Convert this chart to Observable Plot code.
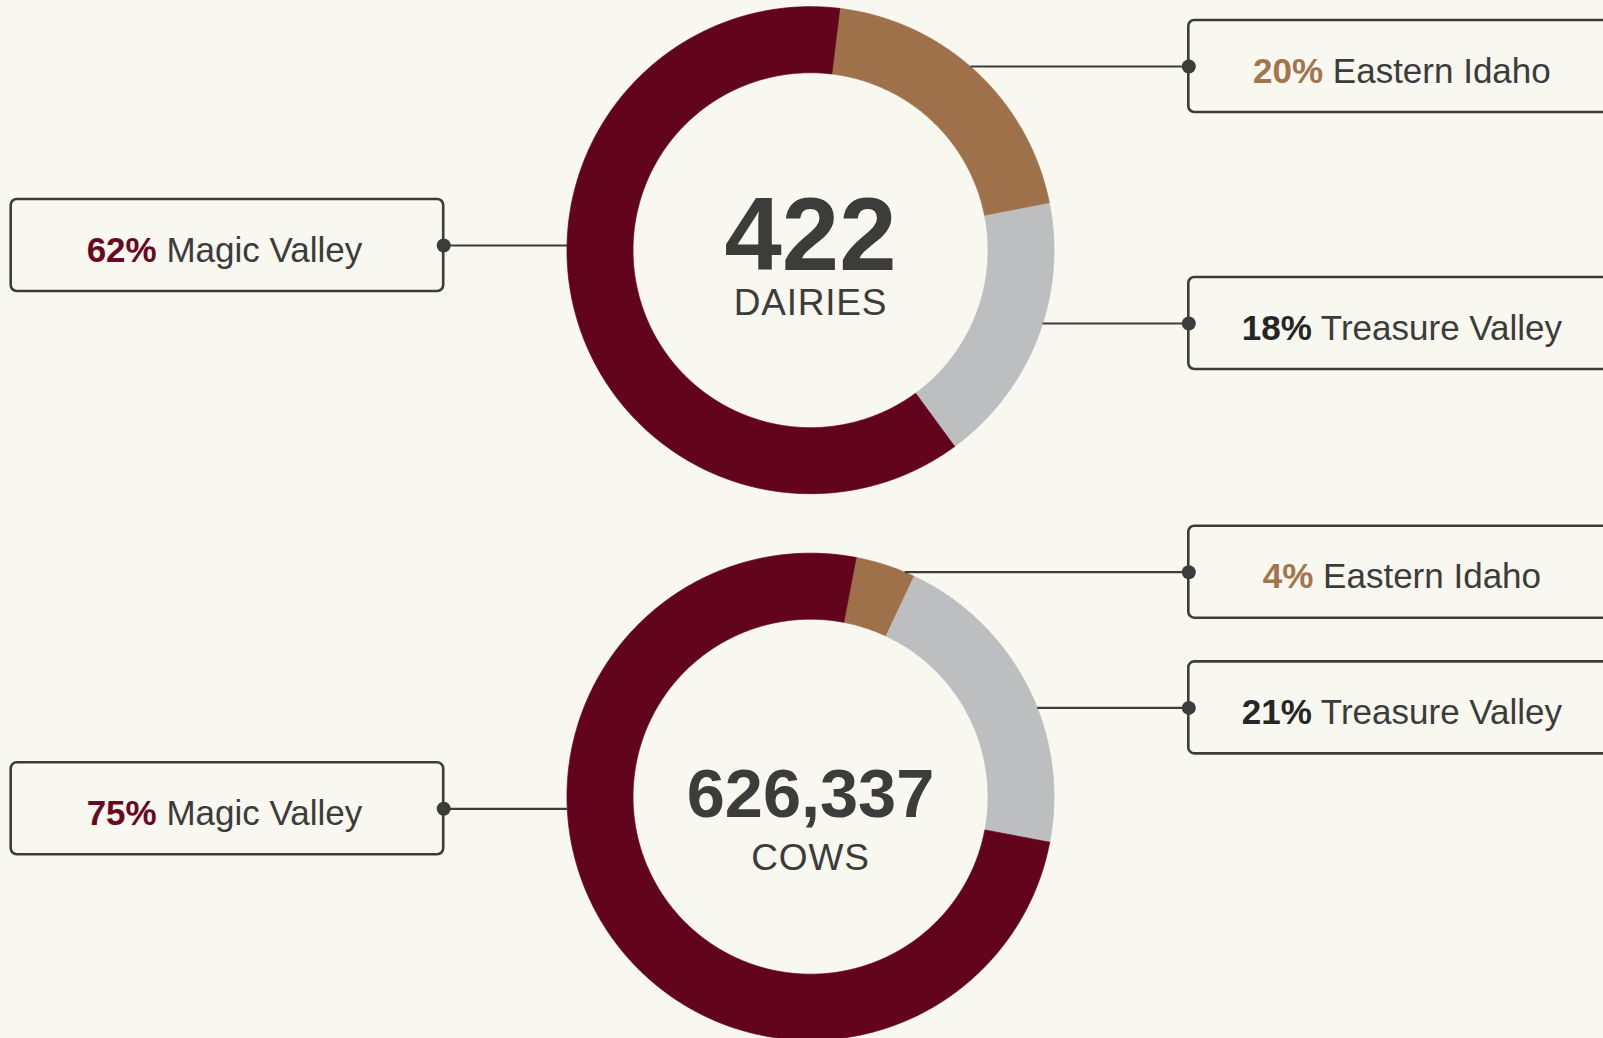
<!DOCTYPE html>
<html>
<head>
<meta charset="utf-8">
<script src="https://cdn.jsdelivr.net/npm/d3@7"></script>
<script src="https://cdn.jsdelivr.net/npm/@observablehq/plot@0.6"></script>
<style>
  html, body { margin: 0; padding: 0; background: #f8f7f0; overflow: hidden; }
  #chart svg { display: block; }
</style>
</head>
<body>
<div id="chart"></div>
<script>
// ---------------- DATA ----------------
const regions = ["Eastern Idaho", "Treasure Valley", "Magic Valley"];
const dairiesShare = [20, 18, 62];   // % of dairies
const cowsShare = [4, 21, 75];       // % of cows
const totals = [422, 626337];
const totalLabels = ["DAIRIES", "COWS"];

// ---------------- STYLE / LAYOUT ----------------
const regionColors = ["#9e714b", "#bdbec0", "#63041d"];
const percentColors = {"Eastern Idaho": "#a2754d", "Treasure Valley": "#262625", "Magic Valley": "#6a0820"};
const ink = "#3c3c3a";
const bg = "#f8f7f0";
const W = 1603, H = 1038;
const donutLayout = [{cx: 810, cy: 249.7, start: 6.9}, {cx: 810, cy: 796.2, start: 10.8}];
const rOuter = 243.5, rInner = 177.5;
const labelSide = {"Eastern Idaho": "right", "Treasure Valley": "right", "Magic Valley": "left"};
const labelY = [[66, 323, 245], [571.7, 707.4, 808.3]];
const boxLeft = {left: [10.7, 443.2], right: [1188.3, 1620.5]};
const boxH = 92;

// ---------------- BUILD TABLES ----------------
const series = [dairiesShare, cowsShare];
const arcPts = [];
const labels = [];
const centers = [];
series.forEach((vals, d) => {
  const {cx, cy, start} = donutLayout[d];
  let a = start;
  vals.forEach((v, i) => {
    const a0 = a, a1 = a + v * 3.6;
    a = a1;
    const key = d + "-" + i;
    const n = Math.max(2, Math.ceil((a1 - a0) / 0.25));
    const pt = (r, deg) => {
      const t = deg * Math.PI / 180;
      return {x: cx + r * Math.sin(t), y: cy - r * Math.cos(t)};
    };
    for (let k = 0; k <= n; k++) arcPts.push({key, region: regions[i], ...pt(rOuter, a0 + (a1 - a0) * k / n)});
    for (let k = n; k >= 0; k--) arcPts.push({key, region: regions[i], ...pt(rInner, a0 + (a1 - a0) * k / n)});
    arcPts.push({key, region: regions[i], ...pt(rOuter, a0)});

    const side = labelSide[regions[i]];
    const y = labelY[d][i];
    const dy = y - cy;
    const dx = Math.sqrt(rOuter * rOuter - dy * dy);
    const [bx1, bx2] = boxLeft[side];
    labels.push({
      region: regions[i], pct: v, y,
      lx1: side === "right" ? cx + dx : cx - dx,
      lx2: side === "right" ? bx1 : bx2,
      bx1, bx2, by1: y - boxH / 2, by2: y + boxH / 2,
      tx: (bx1 + bx2) / 2 - 3,
      text: v + "% " + regions[i]
    });
  });
  centers.push({x: cx, y: cy, total: d3.format(",")(totals[d]), label: totalLabels[d]});
});

const font = "'Liberation Sans', Arial, sans-serif";
const chart = Plot.plot({
  width: W, height: H, margin: 0,
  x: {domain: [0, W], range: [0, W], axis: null},
  y: {domain: [0, H], range: [0, H], axis: null},
  color: {domain: regions, range: regionColors},
  style: {background: bg, fontFamily: font, overflow: "visible"},
  marks: [
    Plot.line(arcPts, {x: "x", y: "y", z: "key", fill: "region", stroke: "region", strokeWidth: 0.8, curve: "linear"}),
    Plot.link(labels, {x1: "lx1", y1: "y", x2: "lx2", y2: "y", stroke: ink, strokeWidth: 2.2}),
    Plot.rect(labels, {x1: "bx1", x2: "bx2", y1: "by1", y2: "by2", fill: bg, stroke: ink, strokeWidth: 2.6, rx: 6}),
    Plot.dot(labels, {x: "lx2", y: "y", r: 7, fill: ink, stroke: null}),
    Plot.text(labels, {x: "tx", y: "y", text: "text", fontSize: 35, fill: ink, textAnchor: "middle", dy: 5}),
    Plot.text(centers.slice(0, 1), {x: "x", y: "y", text: "total", fontSize: 103, fontWeight: "bold", fill: ink, dy: -13.5}),
    Plot.text(centers.slice(1), {x: "x", y: "y", text: "total", fontSize: 68.5, fontWeight: "bold", fill: ink, dy: -2}),
    Plot.text(centers, {x: "x", y: "y", text: "label", fontSize: 37, fill: ink})
  ]
});

const textGroups = chart.querySelectorAll('g[aria-label="text"]');
// Rich-text: bold coloured percentage + regular region name
d3.select(textGroups[0]).selectAll("text").each(function() {
  const s = this.textContent;
  const sp = s.indexOf(" ");
  const pct = s.slice(0, sp), name = s.slice(sp + 1);
  const t = d3.select(this);
  t.text(null);
  t.append("tspan").attr("font-weight", "bold").attr("fill", percentColors[name]).text(pct);
  t.append("tspan").text(" " + name);
});
// center sub-labels offsets (below the totals)
const subDy = [64.5 - 0.32 * 37, 73 - 0.32 * 37];
d3.select(textGroups[3]).selectAll("text").each(function(_, j) {
  const tr = this.getAttribute("transform") || "";
  this.setAttribute("transform", tr + ` translate(0,${subDy[j]})`);
  this.setAttribute("letter-spacing", "0.8");
});

document.getElementById("chart").appendChild(chart);
</script>
</body>
</html>
